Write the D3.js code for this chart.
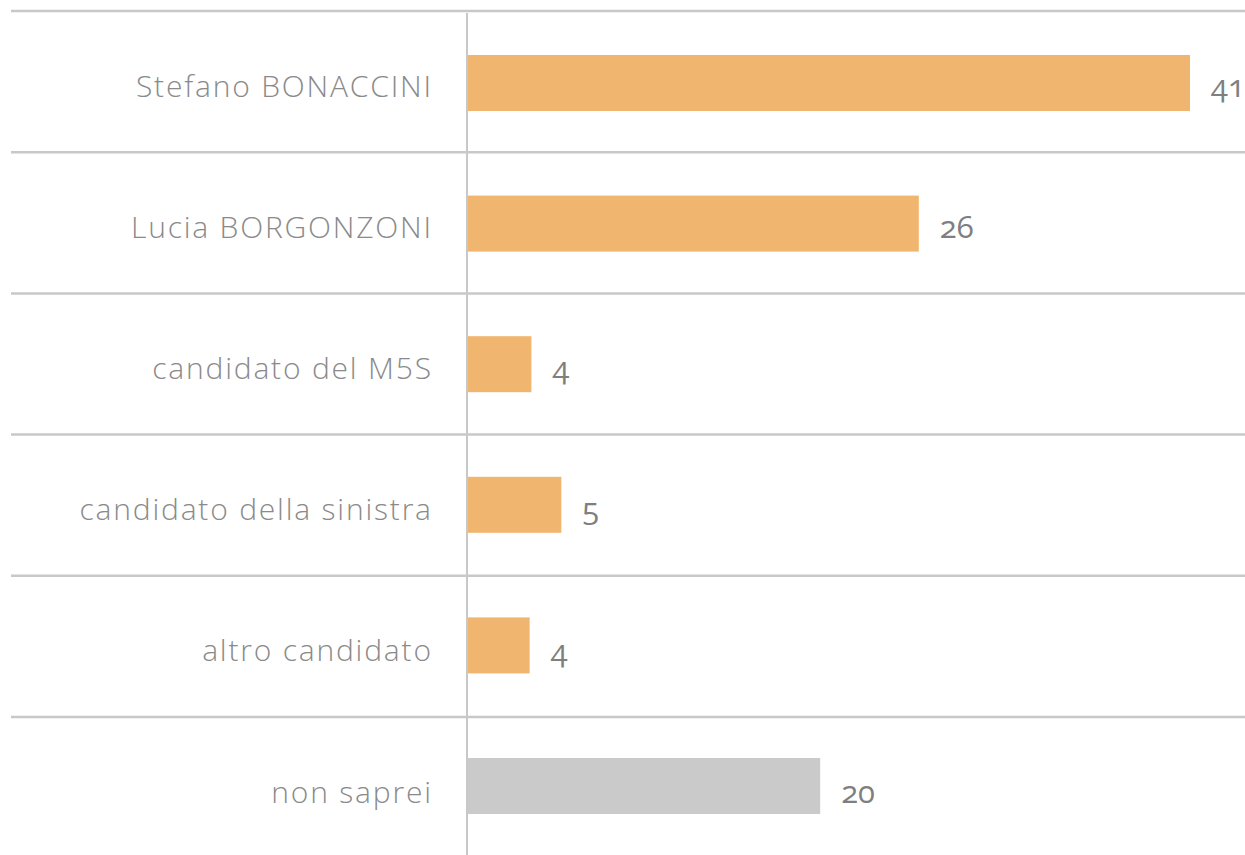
<!DOCTYPE html>
<html>
<head>
<meta charset="utf-8">
<script src="https://cdn.jsdelivr.net/npm/d3@7"></script>
<style>
  html, body { margin: 0; padding: 0; background: #fff; }
  svg { display: block; }
  .val { font-variant-numeric: oldstyle-nums; font-feature-settings: "onum" 1; }
</style>
</head>
<body>
<svg id="chart" width="1245" height="855"></svg>
<script>
const categories = ["Stefano BONACCINI", "Lucia BORGONZONI", "candidato del M5S", "candidato della sinistra", "altro candidato", "non saprei"];
const values = [41, 25.6, 3.6, 5.3, 3.5, 20];
const valueLabels = ["41", "26", "4", "5", "4", "20"];
const barColors = ["#F0B56E", "#F0B56E", "#F0B56E", "#F0B56E", "#F0B56E", "#CACACA"];

(function () {
const svg = d3.select("#chart");
const W = 1245, H = 855;
const axisX = 467;
const topY = 11, rowH = 141.2;

const x = d3.scaleLinear().domain([0, 41]).range([axisX + 1, 1190]);
const y = d3.scaleBand().domain(categories).range([topY, topY + rowH * categories.length]);
const yBar = d3.scaleBand().domain(categories).range([12.7, 12.7 + 140.6 * categories.length]);
const barH = 56;

// separators
svg.append("g").selectAll("line").data(categories).join("line")
  .attr("x1", 11).attr("x2", W)
  .attr("y1", d => y(d)).attr("y2", d => y(d))
  .attr("stroke", "#c8c8c8").attr("stroke-width", 2.5);

// vertical axis
svg.append("line").attr("x1", axisX).attr("x2", axisX).attr("y1", topY + 2).attr("y2", H)
  .attr("stroke", "#c8c8c8").attr("stroke-width", 2);

// bars
svg.append("g").selectAll("rect").data(categories).join("rect")
  .attr("x", x(0))
  .attr("y", d => yBar(d) + yBar.bandwidth() / 2 - barH / 2)
  .attr("width", (d, i) => x(values[i]) - x(0))
  .attr("height", barH)
  .attr("fill", (d, i) => barColors[i]);

// category labels
svg.append("g").selectAll("text").data(categories).join("text")
  .attr("x", 431 + 1.8)
  .attr("y", d => y(d) + 75)
  .attr("dy", "0.35em")
  .attr("text-anchor", "end")
  .attr("font-family", "'Open Sans', sans-serif")
  .attr("font-weight", 300)
  .attr("font-size", 30)
  .attr("letter-spacing", 1.8)
  .attr("fill", "#8a8a8a")
  .text(d => d);

// value labels
svg.append("g").selectAll("text").data(categories).join("text")
  .attr("class", "val")
  .attr("x", (d, i) => x(values[i]) + 21)
  .attr("y", d => y(d) + 75)
  .attr("dy", "0.35em")
  .attr("font-family", "'Open Sans', sans-serif")
  .attr("font-size", 31)
  .attr("fill", "#7f7f7f")
  .text((d, i) => valueLabels[i]);
})();
</script>
</body>
</html>
